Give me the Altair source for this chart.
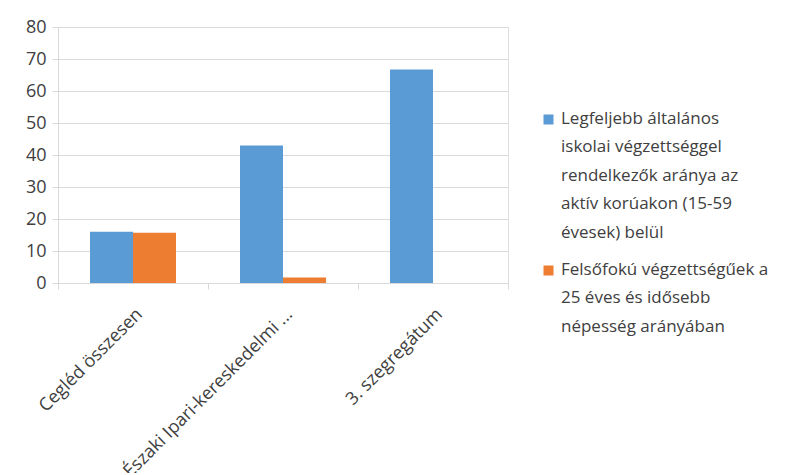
import altair as alt
import pandas as pd

categories = ["Cegléd összesen", "Északi Ipari-kereskedelmi ...", "3. szegregátum"]
series = [
    "Legfeljebb általános|iskolai végzettséggel|rendelkezők aránya az|aktív korúakon (15-59|évesek) belül",
    "Felsőfokú végzettségűek a|25 éves és idősebb|népesség arányában",
]
blue_values = [16.0, 43.0, 66.7]
orange_values = [15.7, 1.7, 0.0]

rows = []
for c, b, o in zip(categories, blue_values, orange_values):
    rows.append({"cat": c, "series": series[0], "value": b})
    rows.append({"cat": c, "series": series[1], "value": o})
df = pd.DataFrame(rows)

FONT = "Open Sans"
TXT = "#404040"

chart = alt.Chart(df).mark_bar().encode(
    x=alt.X("cat:N", sort=categories, title=None,
            scale=alt.Scale(paddingInner=0, paddingOuter=0),
            axis=alt.Axis(labelAngle=-45, tickBand="extent", grid=False,
                          domainColor="#d9d9d9", tickColor="#d9d9d9", tickSize=6,
                          labelFont=FONT, labelFontSize=18, labelColor=TXT,
                          labelPadding=16, labelLimit=300)),
    xOffset=alt.XOffset("series:N", sort=series,
                        scale=alt.Scale(paddingOuter=0.744, paddingInner=0)),
    y=alt.Y("value:Q", title=None,
            scale=alt.Scale(domain=[0, 80]),
            axis=alt.Axis(values=list(range(0, 81, 10)), gridColor="#d9d9d9",
                          domainColor="#d9d9d9", tickColor="#d9d9d9", tickSize=6,
                          labelFont=FONT, labelFontSize=18, labelColor=TXT,
                          labelPadding=6)),
    color=alt.Color("series:N", sort=series, title=None,
                    scale=alt.Scale(domain=series, range=["#5b9bd5", "#ed7d31"]),
                    legend=alt.Legend(orient="none", legendX=482, legendY=75,
                                      symbolType="M-1,0.8H1V2.8H-1Z", symbolSize=100,
                                      symbolStrokeWidth=0,
                                      labelExpr="split(datum.label, '|')",
                                      labelFont=FONT, labelFontSize=17, labelColor=TXT,
                                      labelLimit=400, labelBaseline="top",
                                      labelOffset=4, rowPadding=12)),
).properties(
    width=450, height=256,
    autosize=alt.AutoSizeParams(type="none"),
    padding={"left": 50, "top": 19, "right": 292, "bottom": 190},
).configure_view(stroke=None).configure(style={"guide-label": {"lineHeight": 28.5}})

chart.save("out.html", embed_options={"renderer": "svg", "actions": False})
